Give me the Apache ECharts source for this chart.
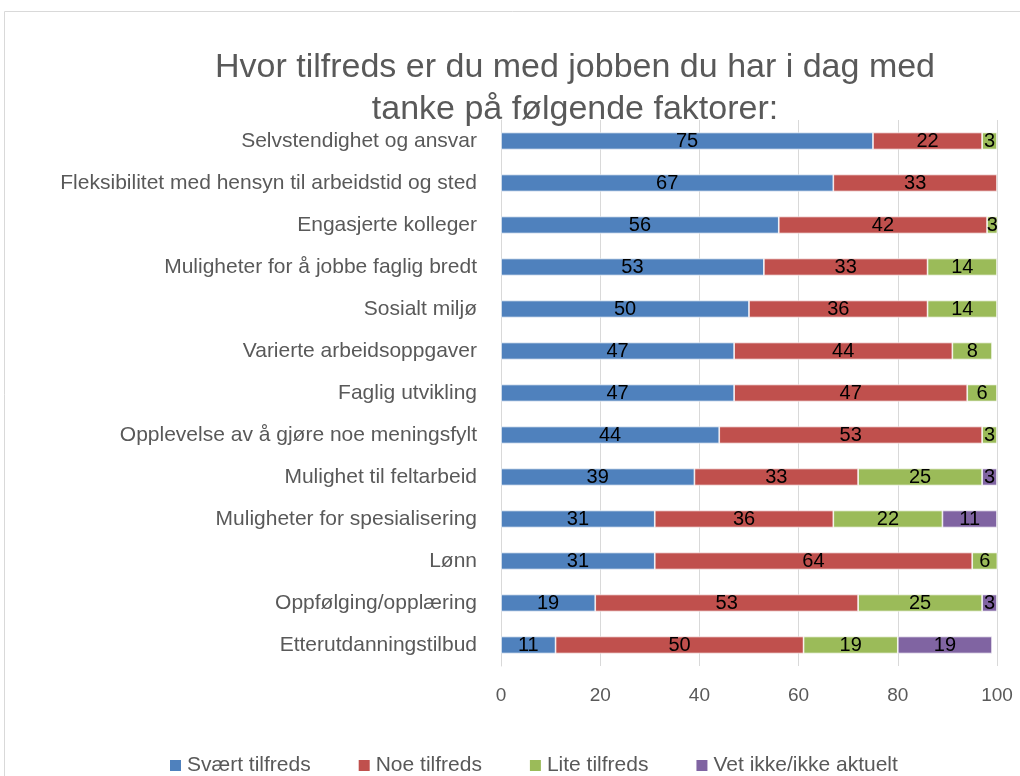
<!DOCTYPE html>
<html lang="no">
<head>
    <meta charset="UTF-8">
    <title>Tilfredshet</title>
    <style>
        html,body{margin:0;padding:0;background:#fff;}
        #main{width:1020px;height:776px;}
    </style>
    <script type="text/javascript" src="https://cdn.jsdelivr.net/npm/echarts@6/dist/echarts.min.js"></script>
</head>
<body>
<div id="main"></div>
</body>
<script>
    let categories=[
        'Selvstendighet og ansvar',
        'Fleksibilitet med hensyn til arbeidstid og sted',
        'Engasjerte kolleger',
        'Muligheter for å jobbe faglig bredt',
        'Sosialt miljø',
        'Varierte arbeidsoppgaver',
        'Faglig utvikling',
        'Opplevelse av å gjøre noe meningsfylt',
        'Mulighet til feltarbeid',
        'Muligheter for spesialisering',
        'Lønn',
        'Oppfølging/opplæring',
        'Etterutdanningstilbud'
    ];
    let svaertTilfreds=[75,67,56,53,50,47,47,44,39,31,31,19,11];
    let noeTilfreds=[22,33,42,33,36,44,47,53,33,36,64,53,50];
    let liteTilfreds=[3,null,3,14,14,8,6,3,25,22,6,25,19];
    let vetIkke=[null,null,null,null,null,null,null,null,3,11,null,3,19];
    let xTicks=[0,20,40,60,80,100];

    let font='Liberation Sans';
    let grey='#595959';

    let chart=echarts.init(document.getElementById('main'));

    function bar(name,data,color){
        return{
            type:'bar',
            name:name,
            stack:'total',
            data:data,
            barWidth:17,
            itemStyle:{
                color:color,
                borderColor:'#fff',
                borderWidth:0.7
            },
            label:{
                show:true,
                position:'inside',
                color:'#000',
                fontFamily:font,
                fontSize:20,
                formatter:p=>p.value==null?'':p.value
            },
            emphasis:{disabled:true}
        }
    }

    let option={
        animation:false,
        textStyle:{fontFamily:font},
        graphic:[{
            type:'rect',
            shape:{x:4.5,y:11.5,width:1030,height:800},
            style:{fill:'none',stroke:'#D9D9D9',lineWidth:1},
            silent:true
        }],
        title:{
            text:'Hvor tilfreds er du med jobben du har i dag med\ntanke på følgende faktorer:',
            left:570,
            textAlign:'center',
            top:42,
            textStyle:{
                color:grey,
                fontFamily:font,
                fontWeight:'normal',
                fontSize:34,
                lineHeight:42
            }
        },
        legend:{
            top:750,
            left:163,
            itemWidth:13,
            itemHeight:13,
            itemGap:46,
            icon:'rect',
            textStyle:{color:grey,fontFamily:font,fontSize:21},
            data:['Svært tilfreds','Noe tilfreds','Lite tilfreds','Vet ikke/ikke aktuelt']
        },
        grid:{
            left:501,
            right:23,
            top:120,
            height:546,
            containLabel:false
        },
        xAxis:{
            type:'value',
            min:0,
            max:100,
            interval:20,
            axisLine:{show:false},
            axisTick:{show:false},
            splitLine:{lineStyle:{color:'#D9D9D9',width:1}},
            axisLabel:{
                color:grey,
                fontFamily:font,
                fontSize:19,
                margin:20,
                formatter:v=>xTicks.includes(v)?String(v):''
            }
        },
        yAxis:{
            type:'category',
            inverse:true,
            data:categories,
            axisLine:{show:true,lineStyle:{color:'#D9D9D9'}},
            axisTick:{show:false},
            axisLabel:{
                color:grey,
                fontFamily:font,
                fontSize:21,
                margin:24
            }
        },
        series:[
            bar('Svært tilfreds',svaertTilfreds,'#4F81BD'),
            bar('Noe tilfreds',noeTilfreds,'#C0504D'),
            bar('Lite tilfreds',liteTilfreds,'#9BBB59'),
            bar('Vet ikke/ikke aktuelt',vetIkke,'#8064A2')
        ]
    };
    chart.setOption(option);
</script>
</html>
